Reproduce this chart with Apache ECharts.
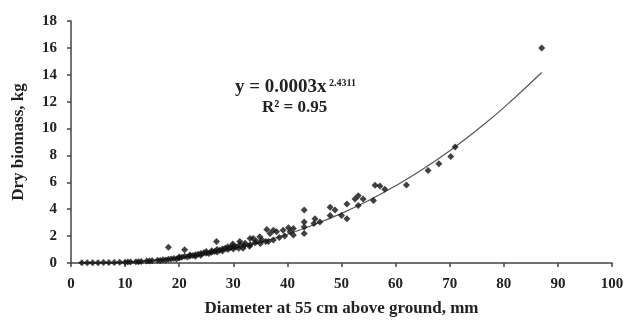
<!DOCTYPE html>
<html><head><meta charset="utf-8">
<script src="https://cdn.jsdelivr.net/npm/echarts@6/dist/echarts.min.js"></script>
<style>html,body{margin:0;padding:0;background:#fff}#c{width:628px;height:322px}</style>
</head><body><div id="c"></div>
<script>
// Observed data points: [diameter mm, dry biomass kg]
const points = [
[2,0.01],[3,0.01],[4,0.02],[5,0.02],[6,0.03],[7,0.03],[8,0.04],[9,0.05],[10,0.06],[10.5,0.07],
[11,0.08],[12,0.1],[12.5,0.09],[13,0.12],[14,0.14],[14.5,0.15],[15,0.17],[16,0.2],[16.5,0.18],[17,0.24],
[17.5,0.22],[18,0.28],[18,1.17],[18.5,0.3],[19,0.33],[19.5,0.3],[20,0.38],[20,0.45],[20.5,0.42],[21,0.5],
[21,0.98],[21.5,0.44],[22,0.52],[22,0.6],[22.5,0.55],[23,0.62],[23,0.5],[23.5,0.66],[24,0.7],[24,0.58],
[24.5,0.75],[25,0.72],[25,0.85],[25.5,0.7],[26,0.8],[26,0.92],[26.5,0.86],[26.9,1.59],[27,1.0],[27,0.82],
[27.5,0.95],[28,1.05],[28,0.9],[28.5,1.1],[29,1.0],[29,1.2],[29.5,1.15],[29.9,1.42],[30,1.05],[30,1.25],
[30.5,1.2],[31,1.1],[31.2,1.59],[31.2,1.35],[31.8,1.1],[32,1.3],[32.2,1.46],[33,1.25],[33.1,1.83],[33.1,1.35],
[33.7,1.83],[34,1.5],[34.3,1.59],[35,1.45],[35.3,1.71],[34.9,1.95],[36,1.6],[36.2,2.49],[36.5,1.59],[36.8,2.19],
[37.4,2.44],[37.4,1.71],[38,2.32],[38.5,1.9],[39.2,2.44],[39.5,2.0],[40.2,2.63],[40.5,2.32],[41.1,2.56],[41.1,2.08],
[43.1,3.95],[43.1,3.05],[43.1,2.68],[43.1,2.19],[44.9,2.93],[45.1,3.29],[46,3.05],[47.9,4.15],[47.9,3.54],[48.8,3.95],
[50,3.54],[51,4.39],[51,3.29],[52.5,4.76],[53.1,5.0],[53.1,4.27],[54,4.76],[55.9,4.64],[56.2,5.78],[57.1,5.73],
[58,5.49],[62,5.8],[66,6.88],[68,7.39],[70.2,7.93],[71,8.62],[87,16.0]
];
// Trendline
const trendX = [2,5,10,15,20,25,30,35,40,45,50,55,60,65,70,75,80,87];
const trendY = [0.0015,0.014,0.074,0.2,0.4,0.68,1.07,1.55,2.14,2.86,3.69,4.65,5.74,6.97,8.35,9.88,11.56,14.17];
const xTicks = [0,10,20,30,40,50,60,70,80,90,100];
const yTicks = [0,2,4,6,8,10,12,14,16,18];
const xTitle = 'Diameter at 55 cm above ground, mm';
const yTitle = 'Dry biomass, kg';
const eqMain = 'y = 0.0003x';
const eqExp = '2.4311';
const eqR2 = 'R² = 0.95';

const font = '"Liberation Serif","Times New Roman",serif';
const chart = echarts.init(document.getElementById('c'), null, {renderer:'canvas'});
const axisCommon = {
  axisLine:{show:true, lineStyle:{color:'#444', width:1.5}},
  axisTick:{show:true, inside:false, length:4, lineStyle:{color:'#444', width:1.5}},
  splitLine:{show:false},
  axisLabel:{color:'#222', fontFamily:font, fontWeight:'bold', fontSize:15},
  nameTextStyle:{color:'#222', fontFamily:font, fontWeight:'bold', fontSize:17}
};
chart.setOption({
  animation:false,
  backgroundColor:'#fff',
  grid:{left:71, right:16, top:21, bottom:55, containLabel:false},
  xAxis: Object.assign({}, axisCommon, {
    type:'value', min:xTicks[0], max:xTicks[xTicks.length-1], interval:10,
    name:xTitle, nameLocation:'middle', nameGap:37,
    axisLabel:Object.assign({}, axisCommon.axisLabel, {margin:14})
  }),
  yAxis: Object.assign({}, axisCommon, {
    type:'value', min:yTicks[0], max:yTicks[yTicks.length-1], interval:2,
    name:yTitle, nameLocation:'middle', nameGap:44, nameRotate:90,
    axisLabel:Object.assign({}, axisCommon.axisLabel, {margin:14})
  }),
  series:[
    {type:'line', data:trendX.map((x,i)=>[x,trendY[i]]), smooth:true, symbol:'none',
     lineStyle:{color:'#555', width:1.2}, z:2},
    {type:'scatter', data:points, symbol:'diamond', symbolSize:7,
     itemStyle:{color:'#111'}, z:3}
  ],
  graphic:[
    {type:'text', left:235, top:78, style:{text:eqMain, font:'bold 19px '+font, fill:'#222'}},
    {type:'text', left:329, top:78, style:{text:eqExp, font:'bold 10px '+font, fill:'#222'}},
    {type:'text', left:262, top:99, style:{text:eqR2, font:'bold 17px '+font, fill:'#222'}}
  ]
});
</script></body></html>
